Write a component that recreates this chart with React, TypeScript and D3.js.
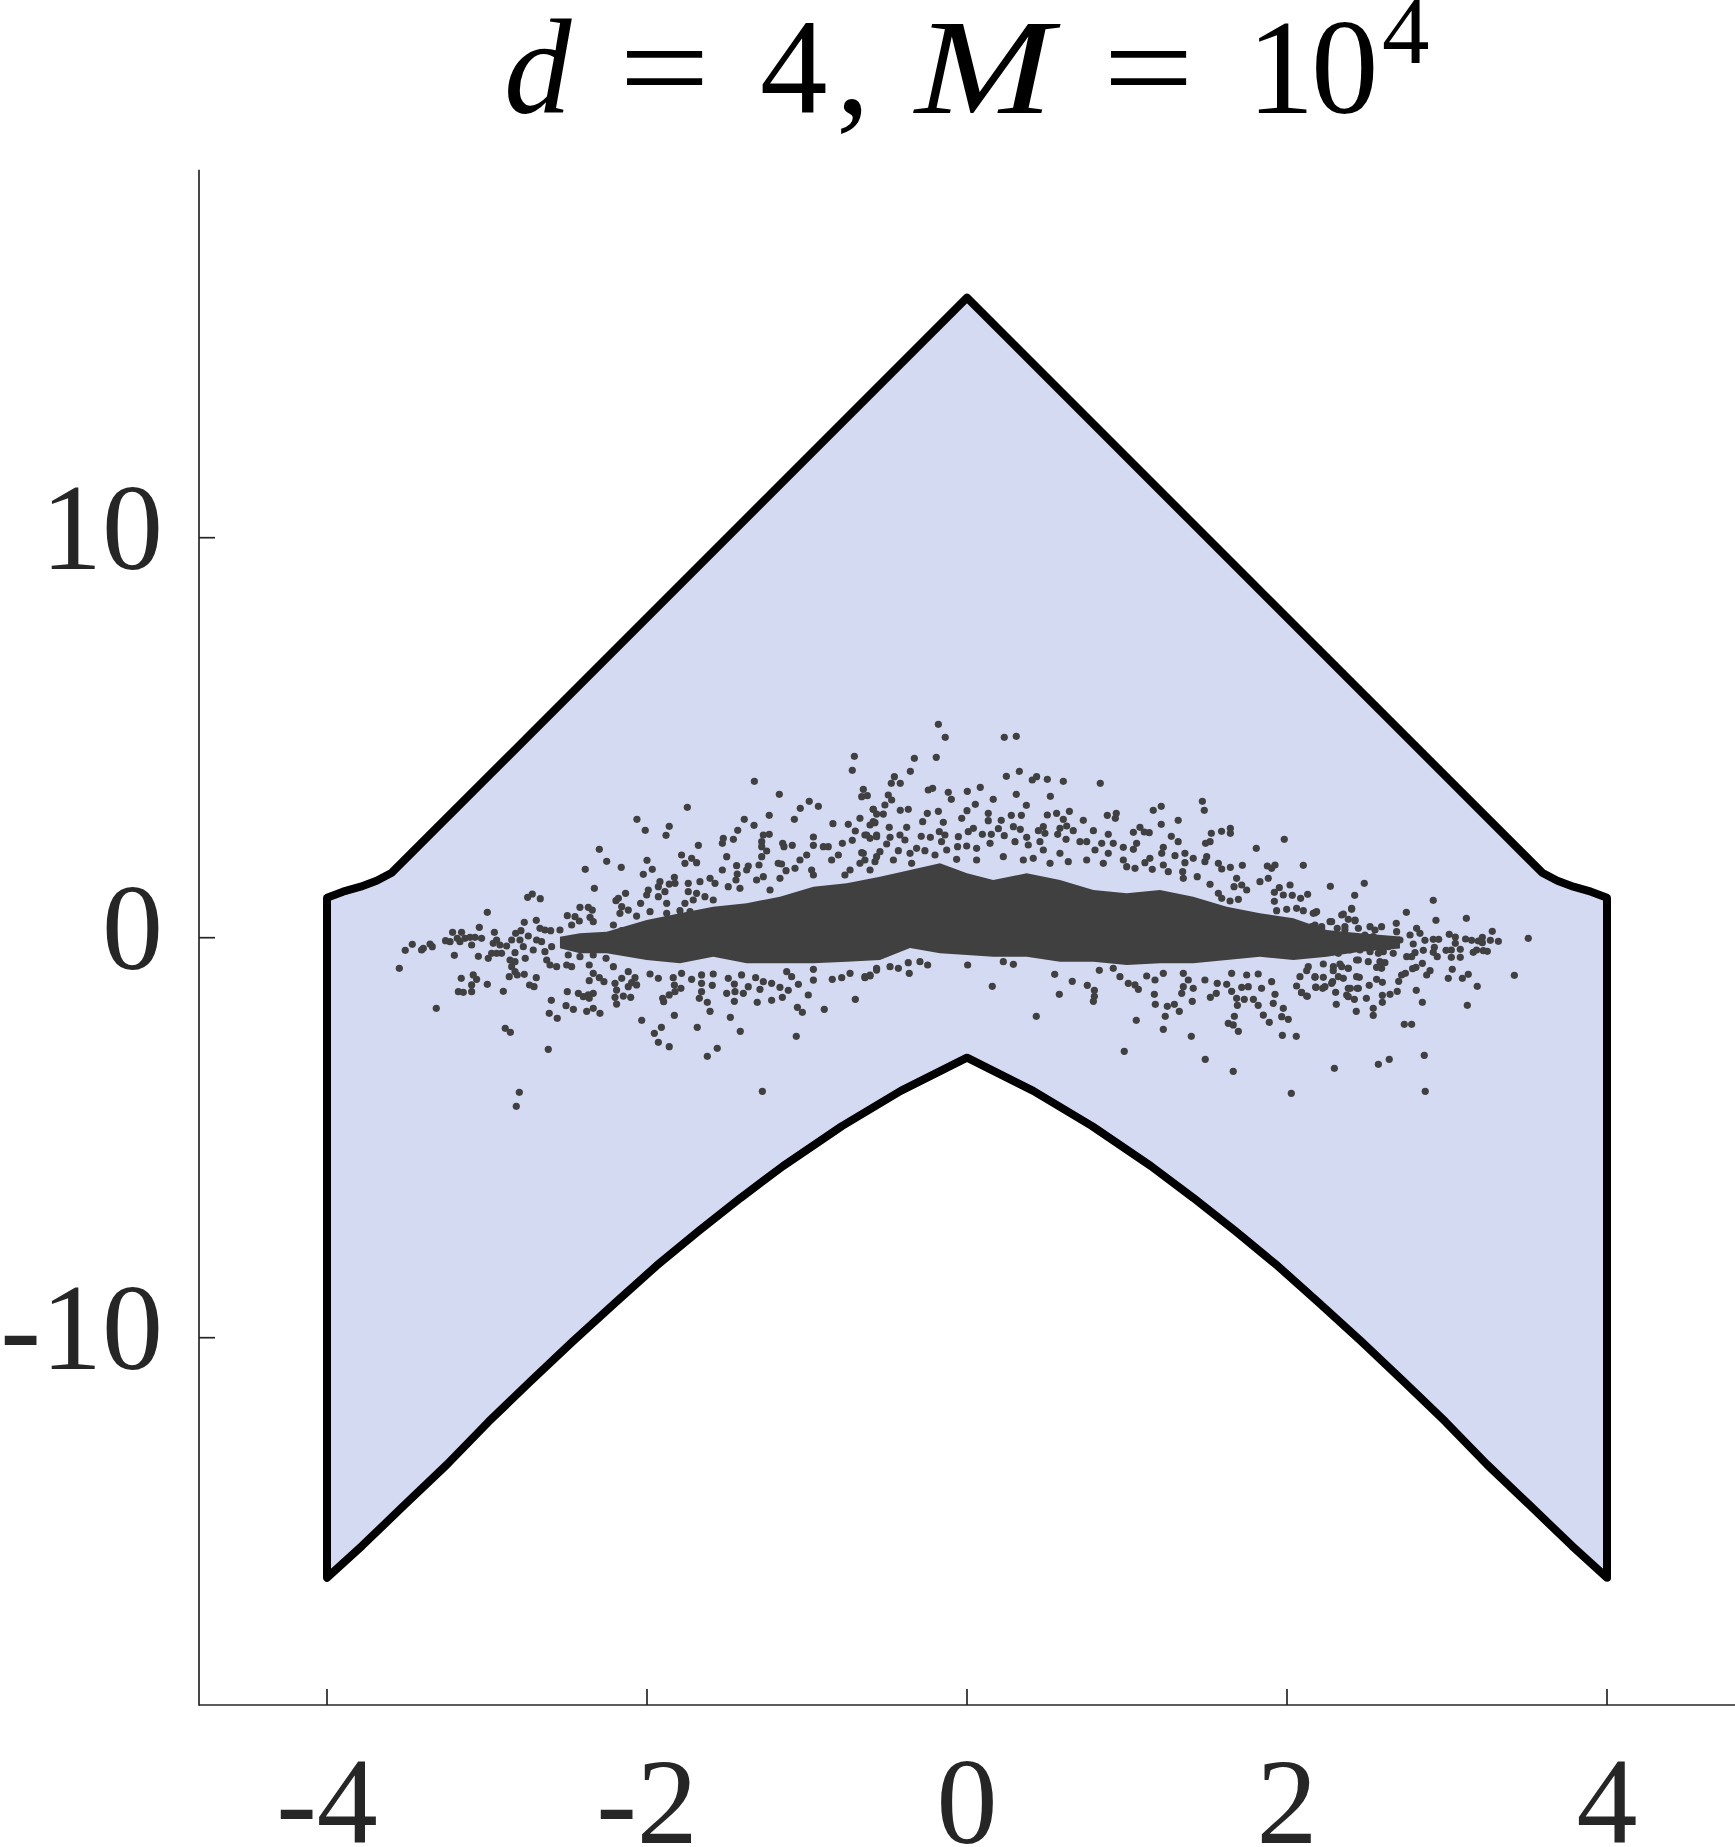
import React from "react";
import * as d3 from "d3";

const xTicks = [-4, -2, 0, 2, 4];
const yTicks = [-10, 0, 10];

// Upper edge of the region, left half (reads the same on the right)
const upperEdge: [number, number][] = [[-4, 1], [-3.9, 1.15], [-3.79, 1.275], [-3.69, 1.425], [-3.595, 1.625], [0, 16]];
// Lower edge of the region, left half
const lowerEdge: [number, number][] = [[0, -3], [-0.414, -3.83], [-0.782, -4.71], [-1.15, -5.71], [-1.413, -6.5], [-1.676, -7.33], [-1.94, -8.2], [-2.2, -9.13], [-2.466, -10.1], [-2.73, -11.1], [-2.99, -12.1], [-3.25, -13.17], [-3.52, -14.2], [-3.78, -15.2], [-4, -16]];

// Where the dots merge into a solid mass in the picture, its outline was read instead of single dots
const coreX = [-2.544, -2.419, -2.252, -2.002, -1.794, -1.586, -1.377, -1.169, -0.96, -0.752, -0.544, -0.356, -0.169, 0, 0.164, 0.373, 0.581, 0.79, 0.998, 1.206, 1.414, 1.623, 1.831, 2.04, 2.248, 2.456, 2.706];
const coreTop = [0.025, 0.109, 0.15, 0.44, 0.61, 0.776, 0.86, 1.026, 1.276, 1.36, 1.526, 1.69, 1.86, 1.61, 1.44, 1.61, 1.44, 1.19, 1.11, 1.19, 1.026, 0.776, 0.61, 0.485, 0.19, 0.11, 0.03];
const coreBottom = [-0.266, -0.39, -0.39, -0.56, -0.64, -0.475, -0.64, -0.64, -0.64, -0.6, -0.56, -0.26, -0.39, -0.43, -0.475, -0.475, -0.6, -0.6, -0.68, -0.64, -0.64, -0.56, -0.475, -0.56, -0.475, -0.35, -0.27];

const dotsLeftTail: [number, number][] = [[-3.548,-0.766],[-3.511,-0.316],[-3.467,-0.166],[-3.409,-0.308],[-3.398,-0.266],[-3.356,-0.158],[-3.342,-0.224],[-3.317,-1.766],[-3.259,-0.074],[-3.231,-0.1],[-3.215,0.134],[-3.204,-0.441],[-3.186,-0.016],[-3.169,-0.1],[-3.159,0.134],[-3.161,-1.016],[-3.179,-1.35],[-3.148,-1.366],[-3.138,-0.016],[-3.096,-0.183],[-3.106,0.009],[-3.075,0.009],[-3.048,0.26],[-3.034,-0.016],[-3.054,-0.466],[-3.096,-1.18],[-3.096,-1.35],[-3.086,-0.93],[-3.065,-1.04],[-2.998,0.634],[-2.998,-1.166],[-2.992,-0.516],[-2.971,-0.391],[-2.954,0.134],[-2.961,-0.141],[-2.94,-0.058],[-2.94,-0.391],[-2.909,-0.391],[-2.919,-0.183],[-2.898,-1.341],[-2.886,-2.266],[-2.854,-2.366],[-2.877,-0.208],[-2.846,-0.058],[-2.821,0.109],[-2.788,0.176],[-2.767,0.384],[-2.746,1.01],[-2.717,1.093],[-2.667,0.976],[-2.825,-0.375],[-2.856,-0.558],[-2.825,-0.6],[-2.846,-0.725],[-2.861,-0.975],[-2.825,-0.85],[-2.811,-0.933],[-2.767,-0.916],[-2.761,-0.516],[-2.773,-0.225],[-2.742,0.042],[-2.794,-0.058],[-2.798,-3.866],[-2.817,-4.216],[-2.734,-1.183],[-2.706,-1.225],[-2.692,-1.0],[-2.617,-2.79],[-2.692,0.434],[-2.711,-0.308],[-2.69,-0.058],[-2.659,-0.1],[-2.669,0.234],[-2.638,0.192],[-2.602,0.176],[-2.638,-0.35],[-2.627,-0.558],[-2.606,-0.683],[-2.596,-0.225],[-2.565,-0.725],[-2.598,-1.566],[-2.611,-1.891],[-2.561,-2.016],[-2.506,-1.7],[-2.46,-1.79],[-2.498,-1.35],[-2.429,-1.39],[-2.377,-1.84],[-2.336,-1.766],[-2.294,-1.891],[-2.367,-1.43],[-2.336,-1.39],[-2.398,-1.475],[-2.361,-1.516],[-2.361,-1.075],[-2.336,-0.89],[-2.298,-1.0],[-2.269,-1.1],[-2.361,-0.683],[-2.471,-0.725],[-2.502,-0.683],[-2.492,-0.433],[-2.419,-0.475],[-2.336,-0.433],[-2.256,-0.516],[-2.544,0.192],[-2.498,0.55],[-2.45,0.525],[-2.471,0.317],[-2.423,0.417],[-2.419,0.76],[-2.367,0.76],[-2.342,0.69],[-2.356,0.51],[-2.336,0.4]];

const dotsLeftUpper: [number, number][] = [[-2.386,1.709],[-2.329,1.234],[-2.298,2.209],[-2.252,1.909],[-2.161,1.76],[-2.063,2.959],[-2.011,2.684],[-1.861,2.784],[-1.881,2.559],[-1.748,3.259],[-2.0,1.934],[-1.967,1.709],[-2.023,1.584],[-2.134,1.11],[-2.179,0.984],[-2.194,0.925],[-2.158,0.776],[-2.117,0.69],[-2.04,0.86],[-1.992,1.19],[-2.002,1.067],[-1.919,1.4],[-1.929,1.276],[-1.888,1.15],[-1.929,1.026],[-1.877,0.86],[-1.829,1.51],[-1.861,1.34],[-1.825,1.36],[-2.169,0.61],[-2.065,0.54],[-2.21,0.317],[-2.158,0.176],[-1.981,0.65],[-1.877,0.61],[-1.794,0.676],[-1.784,2.067],[-1.763,1.86],[-1.721,1.984],[-1.69,1.876],[-1.679,2.31],[-1.742,1.36],[-1.669,1.4],[-1.606,1.484],[-1.575,1.36],[-1.742,1.15],[-1.69,1.11],[-1.763,0.86],[-1.711,0.942],[-1.638,1.026],[-1.731,0.65],[-1.586,0.942],[-1.529,1.692],[-1.502,2.026],[-1.523,2.484],[-1.529,2.359],[-1.46,2.459],[-1.433,2.684],[-1.392,2.959],[-1.331,2.809],[-1.329,3.909],[-1.236,3.059],[-1.173,3.584],[-1.079,2.959],[-1.042,3.234],[-0.986,3.409],[-0.929,3.284],[-0.838,2.85],[-0.742,2.834],[-0.704,4.534],[-0.717,4.184],[-0.648,3.71],[-0.658,3.526],[-0.623,3.55],[-0.669,2.984],[-0.586,3.209],[-0.565,3.09],[-0.606,2.817],[-0.575,2.876],[-0.698,2.667],[-0.717,2.434],[-0.779,2.359],[-0.96,2.517],[-0.96,2.31],[-1.092,2.31],[-1.152,2.359],[-1.144,2.276],[-1.236,2.584],[-1.273,2.567],[-1.283,2.4],[-1.283,2.276],[-1.252,2.167],[-1.283,2.026],[-1.3,1.817],[-1.44,1.8],[-1.367,1.792],[-1.377,1.692],[-1.436,1.592],[-1.444,1.442],[-1.492,1.276],[-1.419,1.234],[-1.315,1.442],[-1.273,1.526],[-1.231,1.192],[-1.18,1.859],[-1.159,1.842],[-1.131,1.676],[-1.169,1.484],[-1.075,1.734],[-1.044,1.942],[-1.002,2.067],[-0.971,1.692],[-0.96,1.567],[-0.898,2.276],[-0.867,2.276],[-0.804,2.067],[-0.846,1.942],[-0.658,2.126],[-0.669,1.859],[-0.638,2.567],[-0.606,2.484],[-0.565,2.567],[-0.731,1.692],[-0.606,1.692],[-0.763,1.567],[-0.565,2.026]];

const dotsLeftLower: [number, number][] = [[-2.21,-0.724],[-2.2,-1.14],[-2.19,-1.31],[-2.2,-1.49],[-2.19,-1.66],[-2.148,-1.46],[-2.102,-1.49],[-2.117,-1.224],[-2.096,-1.124],[-2.065,-1.18],[-2.075,-1.0],[-2.158,-1.016],[-2.117,-0.85],[-2.033,-2.066],[-1.954,-2.39],[-1.91,-2.24],[-1.929,-2.616],[-1.861,-2.724],[-1.902,-1.516],[-1.896,-1.6],[-1.829,-1.94],[-1.861,-1.43],[-1.825,-1.35],[-1.788,-1.266],[-1.829,-1.183],[-1.981,-0.908],[-1.929,-1.016],[-1.836,-1.0],[-1.784,-0.89],[-1.721,-1.04],[-1.673,-1.516],[-1.623,-1.616],[-1.606,-1.84],[-1.686,-2.24],[-1.561,-2.766],[-1.623,-2.966],[-1.479,-1.99],[-1.417,-2.34],[-1.067,-2.466],[-1.279,-3.84],[-1.659,-1.35],[-1.659,-1.14],[-1.659,-0.93],[-1.592,-1.19],[-1.586,-0.908],[-1.502,-1.39],[-1.454,-1.59],[-1.45,-1.35],[-1.454,-1.16],[-1.398,-1.39],[-1.409,-0.93],[-1.367,-1.224],[-1.311,-1.616],[-1.221,-1.566],[-1.154,-1.49],[-1.117,-1.316],[-1.169,-1.24],[-1.294,-1.29],[-1.273,-1.1],[-1.221,-1.14],[-1.321,-1.0],[-1.492,-1.016],[-0.992,-1.433],[-1.054,-1.166],[-1.06,-1.74],[-1.029,-1.866],[-0.892,-1.79],[-0.698,-1.54],[-0.842,-1.04],[-0.783,-1.0],[-0.638,-1.0],[-0.606,-0.958],[-0.96,-1.06],[-1.096,-0.975],[-1.127,-0.85],[-0.96,-0.79],[-0.731,-0.89],[-0.565,-0.81]];

const dotsCentreUpper: [number, number][] = [[-0.179,5.334],[-0.136,5.009],[0.233,5.009],[0.308,5.034],[-0.329,4.484],[-0.192,4.51],[-0.354,4.159],[-0.454,4.026],[-0.473,3.859],[-0.417,3.859],[-0.242,3.692],[-0.215,3.734],[-0.117,3.634],[-0.098,3.459],[0.002,3.66],[0.083,3.76],[0.164,3.459],[0.246,4.034],[0.327,4.159],[0.408,3.942],[0.435,4.026],[0.502,3.959],[0.602,3.909],[0.833,3.859],[0.308,3.584],[0.521,3.534],[0.371,3.309],[0.052,3.334],[-0.492,3.567],[-0.471,3.442],[-0.513,3.317],[-0.586,3.209],[-0.523,3.09],[-0.417,3.184],[-0.367,3.209],[-0.248,3.11],[-0.179,3.16],[-0.277,2.9],[-0.148,2.884],[0.0,3.176],[-0.033,2.984],[0.133,3.11],[0.133,2.926],[0.214,2.934],[0.277,3.06],[0.34,3.06],[0.29,2.776],[0.333,2.71],[0.502,3.067],[0.56,3.11],[0.64,3.16],[0.602,2.96],[0.727,2.934],[0.877,3.06],[0.933,3.11],[0.927,2.984],[1.164,3.184],[1.214,3.284],[1.214,2.834],[1.32,2.934],[1.471,3.409],[1.483,3.184],[1.527,2.609],[1.591,2.659],[1.646,2.734],[1.646,2.609],[1.983,2.459],[1.808,2.234],[2.102,1.809],[2.271,1.284],[2.423,1.059],[1.721,1.809],[1.877,1.792],[1.925,1.817],[1.904,1.734],[1.831,1.4],[1.883,1.484],[1.921,1.134],[1.952,1.25],[2.019,1.317],[1.977,1.067],[2.033,1.059],[2.085,0.984],[2.129,1.084],[1.921,0.909],[1.935,0.676],[1.998,0.709],[2.06,0.734],[2.102,0.676],[2.175,0.626],[2.154,0.276],[2.217,0.276],[2.269,0.4],[2.342,0.567],[2.404,0.709],[2.425,0.426],[2.362,0.192],[1.8,0.484],[1.685,1.484],[1.717,1.317],[1.748,1.192],[1.669,1.276],[1.646,1.76],[1.571,1.859],[1.592,1.717],[1.498,2.026],[1.487,1.9],[1.519,2.4],[1.491,2.359],[1.439,1.526],[1.519,1.334],[1.571,1.109],[1.592,0.984],[1.696,0.96],[1.644,0.917],[1.414,1.984],[1.362,2.109],[1.362,1.876],[1.3,2.05],[1.32,2.4],[1.277,2.534],[1.227,2.259],[1.217,2.109],[1.081,2.759],[1.108,2.642],[1.139,2.625],[1.04,2.634],[1.143,1.984],[1.112,1.876],[1.158,1.709],[1.227,1.817],[1.258,1.65],[1.348,1.65],[1.352,1.484],[1.06,2.359],[1.04,2.209],[0.977,2.259],[0.914,2.359],[0.883,2.584],[0.842,2.359],[0.79,2.675],[0.706,2.4],[0.748,2.4],[0.8,2.192],[0.883,2.109],[0.977,1.942],[1.05,1.734],[0.664,2.675],[0.623,2.792],[0.581,2.734],[0.567,2.584],[0.619,2.459],[0.477,2.775],[0.446,2.675],[0.487,2.609],[0.456,2.4],[0.477,2.192],[0.373,2.509],[0.383,2.317],[0.3,2.4],[0.233,2.55],[0.196,2.725],[0.152,2.584],[0.096,2.584],[0.04,2.734],[0.008,2.65],[-0.054,2.525],[-0.059,2.276],[-0.002,2.292],[0.06,2.234],[0.144,2.359],[0.06,1.942],[-0.065,1.959],[-0.138,2.567],[-0.173,2.65],[-0.229,2.509],[-0.286,2.534],[-0.377,2.759],[-0.486,2.759],[-0.586,2.9],[-0.627,2.567],[-0.565,2.525],[-0.481,2.509],[-0.419,2.567],[-0.388,2.442],[-0.315,2.234],[-0.263,2.176],[-0.2,2.067],[-0.159,2.4],[-0.127,2.192],[-0.356,2.109],[-0.429,2.176],[-0.502,2.342],[-0.544,2.15],[-0.648,2.109],[-0.638,1.942],[-0.575,1.9],[-0.46,1.942],[-0.346,1.859],[0.227,2.025],[0.352,1.942],[0.414,1.984],[0.519,1.859],[0.581,2.109],[0.633,1.9],[0.748,1.942],[0.852,1.859],[0.998,1.776]];

const dotsCentreLower: [number, number][] = [[-0.638,-0.975],[-0.606,-0.933],[-0.565,-0.766],[-0.481,-0.725],[-0.429,-0.766],[-0.367,-0.624],[-0.361,-0.89],[-0.294,-0.6],[-0.246,-0.683],[0.004,-0.683],[0.158,-1.216],[0.29,-0.666],[0.227,-0.6],[0.433,-1.966],[0.548,-0.916],[0.577,-1.416],[0.658,-1.09],[0.752,-1.19],[0.796,-1.316],[0.796,-1.466],[0.79,-1.59],[0.827,-0.816],[0.914,-0.766],[0.956,-0.975],[1.008,-1.14],[1.05,-1.18],[1.071,-1.29],[1.123,-0.958],[1.175,-1.058],[1.227,-0.89],[1.171,-1.416],[1.177,-1.666],[1.252,-1.716],[1.296,-1.666],[1.327,-1.84],[1.239,-1.966],[1.058,-2.066],[1.227,-2.29],[0.983,-2.84],[1.402,-2.466],[1.489,-3.04],[1.664,-3.34],[2.027,-3.89],[2.296,-3.266],[1.408,-1.59],[1.342,-1.39],[1.352,-1.224],[1.383,-1.058],[1.352,-0.89],[1.414,-1.266],[1.487,-1.058],[1.521,-1.49],[1.558,-1.39],[1.564,-1.14],[1.623,-1.166],[1.654,-1.34],[1.685,-1.516],[1.69,-1.69],[1.733,-1.54],[1.79,-1.54],[1.82,-1.69],[1.852,-1.934],[1.671,-1.966],[1.633,-2.14],[1.664,-2.18],[1.696,-2.34],[1.889,-2.116],[1.971,-2.44],[2.058,-2.466],[2.008,-2.04],[1.967,-1.974],[1.914,-1.64],[1.977,-1.766],[1.925,-1.416],[1.904,-1.1],[1.841,-1.266],[1.758,-1.224],[1.717,-1.24],[1.82,-0.908],[1.748,-0.933],[1.654,-0.89],[2.06,-1.208],[2.091,-1.375],[2.127,-1.466],[2.179,-1.232],[2.237,-1.224],[2.279,-1.14],[2.304,-1.366],[2.308,-1.666],[2.383,-1.266],[2.373,-1.433],[2.421,-1.54],[2.433,-1.84],[2.446,-1.266],[2.081,-0.975],[2.175,-0.975],[2.29,-0.725],[2.342,-0.725],[2.383,-0.766],[2.435,-0.975],[2.435,-0.558],[2.133,-0.725]];

const dotsRightTail: [number, number][] = [[2.483,1.359],[2.914,0.934],[2.746,0.634],[2.931,0.434],[3.121,0.484],[2.683,0.359],[3.283,0.159],[3.508,-0.016],[3.014,0.084],[3.052,0.017],[3.116,-0.033],[3.154,-0.066],[3.196,-0.083],[3.221,0.009],[3.221,-0.125],[3.271,-0.066],[3.321,-0.091],[2.914,-0.041],[2.948,-0.041],[2.862,-0.066],[3.052,-0.141],[3.083,-0.291],[3.027,-0.308],[2.994,-0.316],[2.921,-0.24],[2.914,-0.366],[2.939,-0.475],[3.027,-0.491],[3.083,-0.491],[2.852,-0.316],[3.164,-0.366],[3.185,-0.308],[3.227,-0.325],[3.252,-0.341],[3.033,-0.791],[3.008,-1.016],[3.096,-1.016],[3.133,-0.916],[3.421,-0.941],[3.189,-1.216],[3.127,-1.691],[2.846,-0.64],[2.806,-0.74],[2.785,-0.775],[2.894,-0.825],[2.873,-0.933],[2.74,-0.891],[2.716,-0.933],[2.698,-1.09],[2.689,-1.34],[2.808,-1.316],[2.846,-1.616],[2.644,-1.416],[2.596,-1.44],[2.596,-1.616],[2.539,-1.766],[2.539,-1.94],[2.496,-1.516],[2.383,-1.475],[2.396,-1.266],[2.439,-1.266],[2.452,-0.991],[2.514,-1.191],[2.56,-1.041],[2.596,-1.116],[2.733,-2.166],[2.779,-2.166],[2.858,-2.94],[2.639,-3.04],[2.571,-3.166],[2.864,-3.84],[2.352,-1.016],[2.227,-0.991],[2.175,-0.991],[2.181,-1.24],[2.223,-1.266],[2.285,-1.1],[2.123,-1.458],[2.091,-1.366],[2.331,-0.658],[2.383,-0.766],[2.289,-0.825],[2.321,-0.975],[2.227,-0.658],[2.123,-0.825],[2.581,-0.6],[2.612,-0.625],[2.56,-0.74],[2.591,-0.766],[2.508,-0.6],[2.446,-0.558],[2.748,-0.475],[2.8,-0.375],[2.779,-0.475],[2.789,-0.158],[2.706,-0.058],[2.664,-0.391],[2.602,-0.35],[2.519,0.276],[2.55,0.192],[2.591,0.276],[2.539,0.026],[2.487,0.067],[2.425,0.442],[2.404,0.734],[2.352,0.592],[2.383,0.459],[2.164,0.609],[2.185,0.65],[2.175,0.317],[2.216,0.234],[2.279,0.4],[2.314,0.234],[2.362,0.276],[2.446,0.234],[2.685,0.151],[2.81,0.234],[2.831,0.109],[2.769,0.067],[2.644,-0.058],[2.394,-0.308],[2.456,-0.308],[2.519,-0.35],[2.571,-0.391],[2.633,-0.225],[2.498,-0.1],[2.394,0.026],[2.331,-0.058],[2.321,-0.391]];

const x = d3.scaleLinear().domain([-4.8, 4.8]).range([199, 1735]);
const y = d3.scaleLinear().domain([-19.2, 19.2]).range([1705.7, 169.7]);

const mirror = (p: [number, number][]) => p.map(([a, b]) => [-a, b] as [number, number]);
const outline: [number, number][] = [
  ...upperEdge,
  ...mirror(upperEdge).reverse().slice(1),
  ...mirror(lowerEdge).reverse(),
  ...lowerEdge.slice(1),
];
const regionPath = d3.line<[number, number]>().x(d => x(d[0])).y(d => y(d[1]))(outline) + "Z";
const corePath = d3.area<number>()
  .x(d => x(d))
  .y0((_, i) => y(coreBottom[i]))
  .y1((_, i) => y(coreTop[i]))(coreX) as string;
const dots = [...dotsLeftTail, ...dotsLeftUpper, ...dotsLeftLower, ...dotsCentreUpper, ...dotsCentreLower, ...dotsRightTail];

const DOT = "#404040";
const AXIS = "#262626";
const SERIF = "'Liberation Serif', serif";

export default function App() {
  return (
    <svg width={1735} height={1847} viewBox="0 0 1735 1847" style={{ position: "absolute", left: 0, top: 0, background: "#fff" }} fontFamily={SERIF}>
      <path d={regionPath} fill="#d5daf3" stroke="#000" strokeWidth={8} strokeLinejoin="round" />
      <path d={corePath} fill={DOT} />
      {dots.map((d, i) => <circle key={i} cx={x(d[0])} cy={y(d[1])} r={3.6} fill={DOT} />)}

      <line x1={x.range()[0]} x2={x.range()[1]} y1={1705} y2={1705} stroke={AXIS} strokeWidth={1.7} />
      <line x1={199} x2={199} y1={y.range()[1]} y2={1705.8} stroke={AXIS} strokeWidth={1.7} />
      {xTicks.map(t => (
        <g key={t}>
          <line x1={x(t)} x2={x(t)} y1={1705} y2={1689} stroke={AXIS} strokeWidth={1.7} />
          <text x={x(t)} y={1843} textAnchor="middle" fontSize={122} fill={AXIS}>{t}</text>
        </g>
      ))}
      {yTicks.map(t => (
        <g key={t}>
          <line x1={199} x2={215} y1={y(t)} y2={y(t)} stroke={AXIS} strokeWidth={1.7} />
          <text x={163} y={y(t) + 31.5} textAnchor="end" fontSize={122} fill={AXIS}>{t}</text>
        </g>
      ))}

      <g fill="#000" fontSize={135}>
        <text x={504} y={113} fontStyle="italic">d</text>
        <text x={619} y={113} textLength={91} lengthAdjust="spacingAndGlyphs">=</text>
        <text x={760} y={113}>4</text>
        <text x={836} y={113}>,</text>
        <text x={915} y={113} fontStyle="italic" textLength={138} lengthAdjust="spacingAndGlyphs">M</text>
        <text x={1103} y={113} textLength={91} lengthAdjust="spacingAndGlyphs">=</text>
        <text x={1247} y={113}>1</text>
        <text x={1311} y={113}>0</text>
        <text x={1382} y={63} fontSize={95}>4</text>
      </g>
    </svg>
  );
}
